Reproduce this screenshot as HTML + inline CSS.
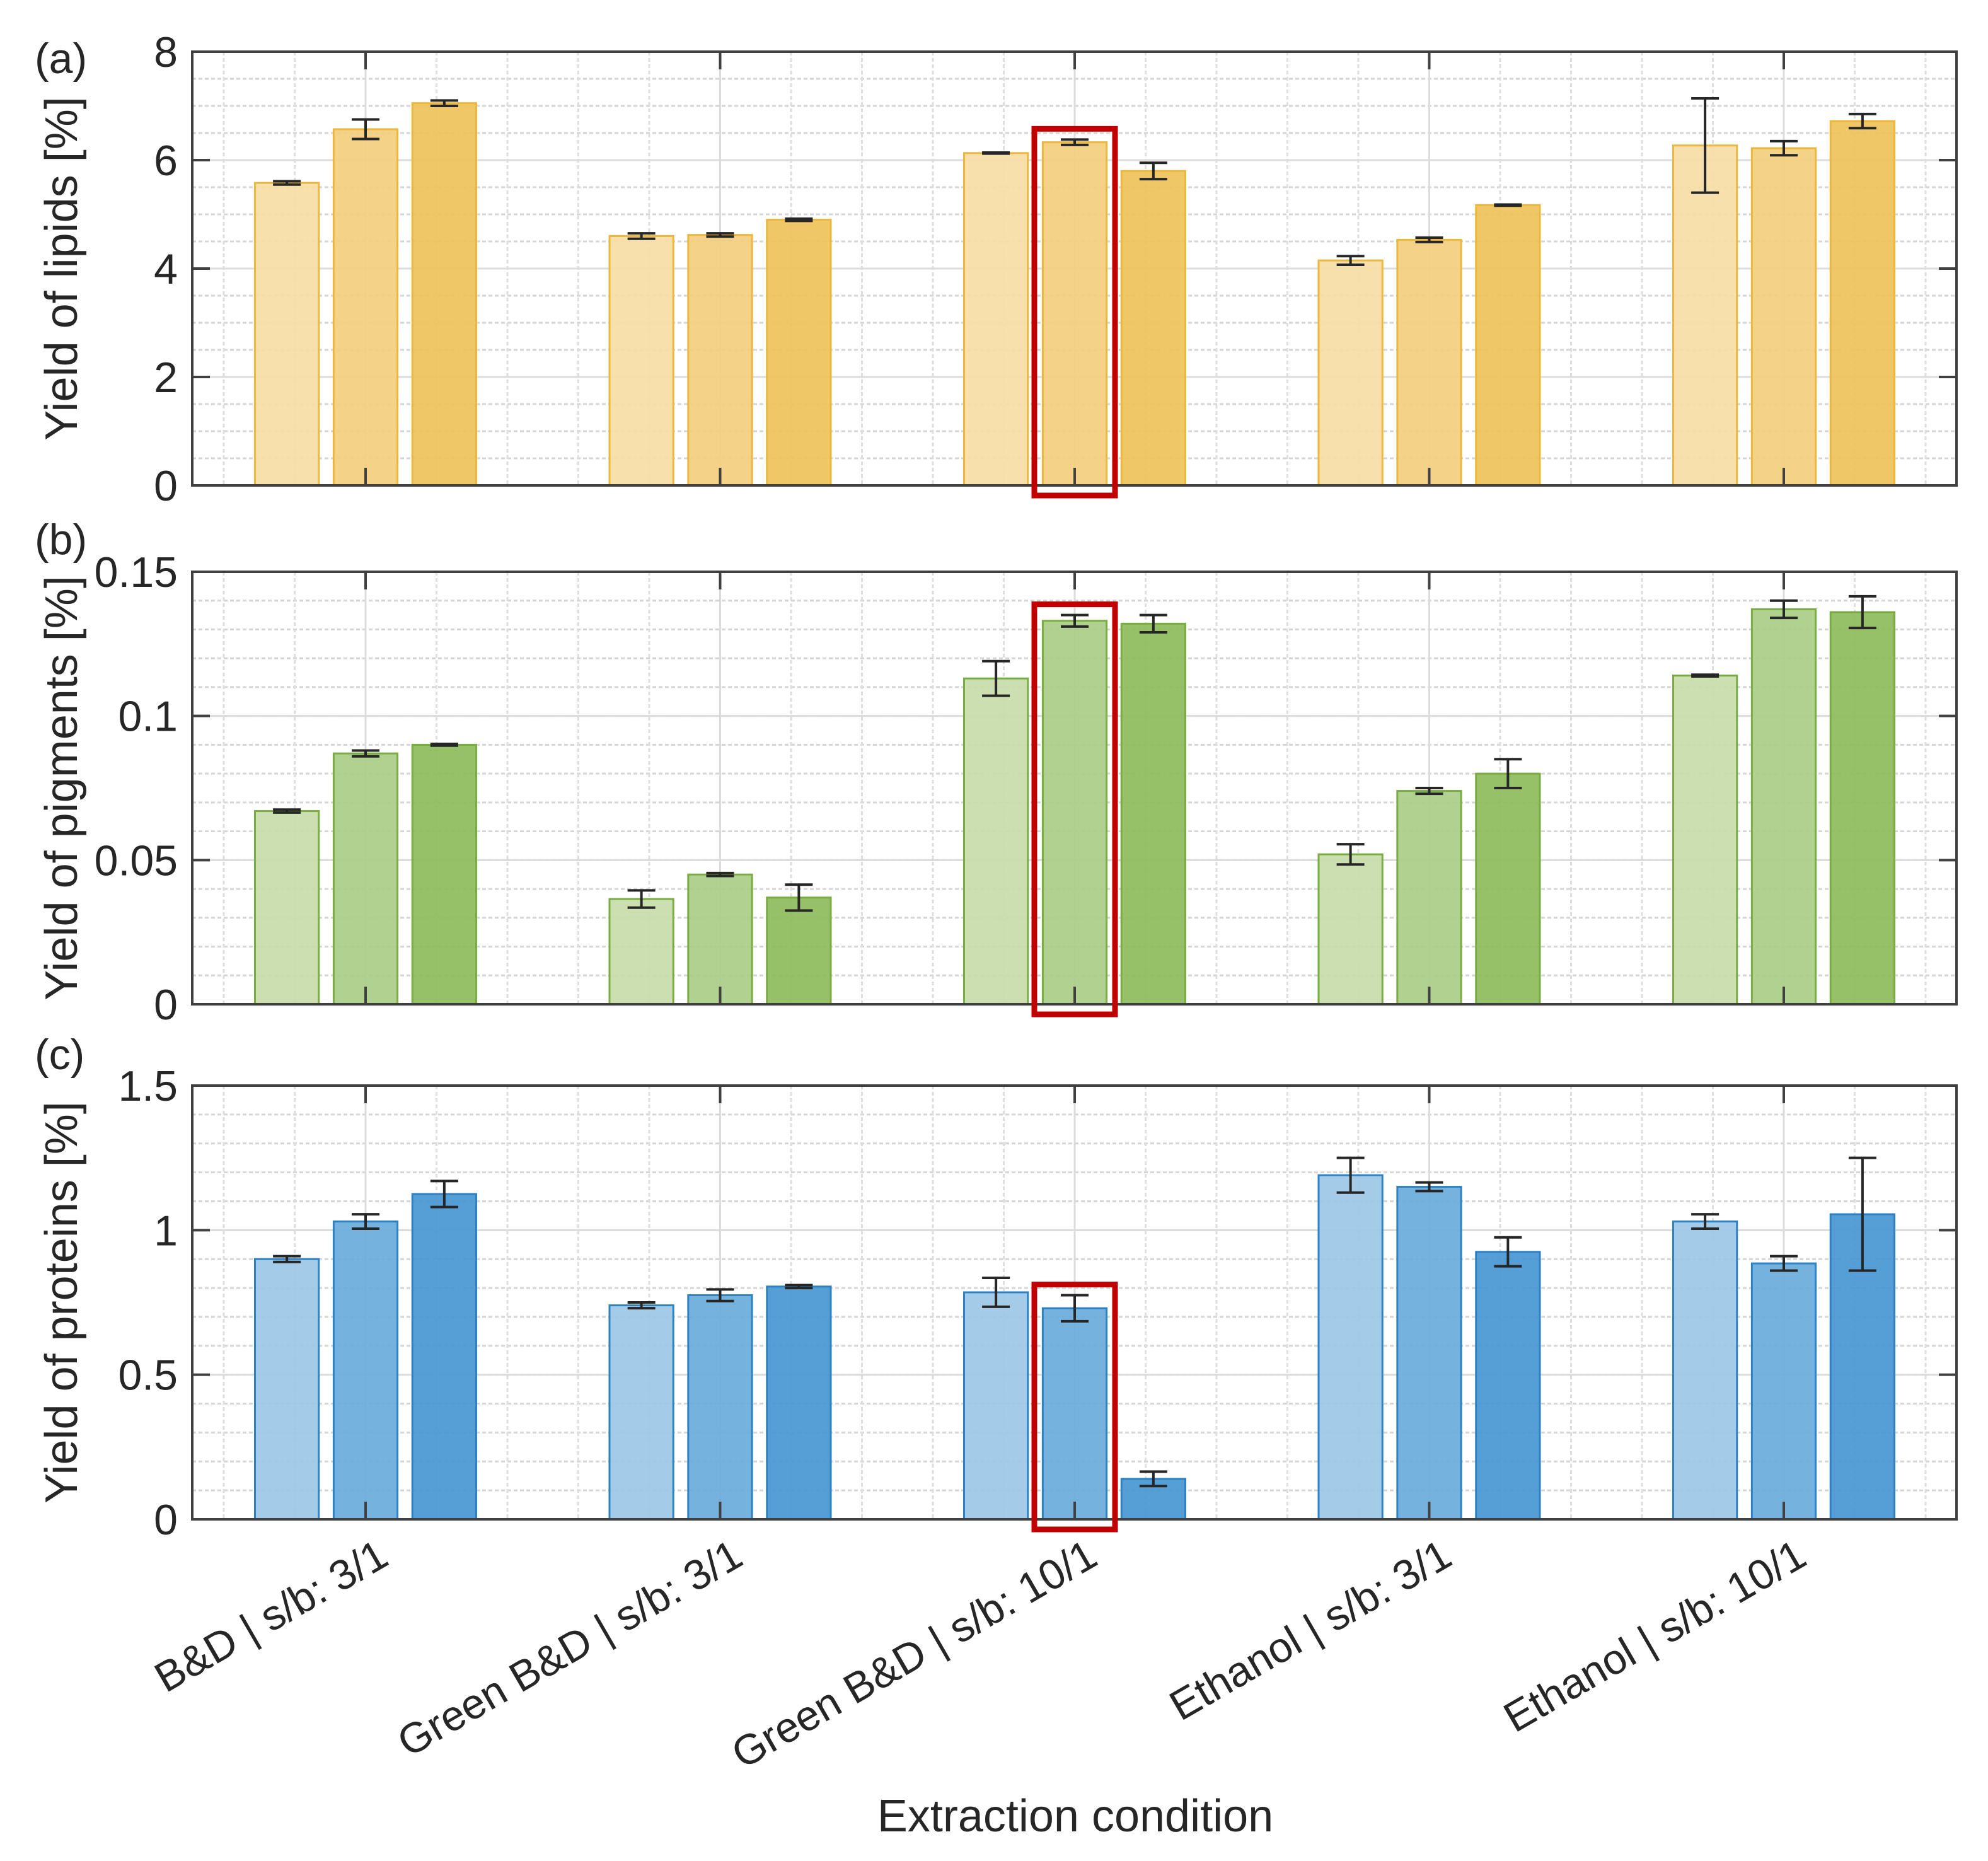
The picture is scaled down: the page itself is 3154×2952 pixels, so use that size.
<!DOCTYPE html>
<html><head><meta charset="utf-8"><style>
html,body{margin:0;padding:0;background:#fff;}
svg{display:block;font-family:"Liberation Sans",Arial,sans-serif;}
</style></head><body>
<svg id="chart" width="3154" height="2952" viewBox="0 0 3154 2952" xmlns="http://www.w3.org/2000/svg">
<rect x="0" y="0" width="3154" height="2952" fill="#fff"/>
</svg>
<script>
const categories = ["B&D | s/b: 3/1","Green B&D | s/b: 3/1","Green B&D | s/b: 10/1","Ethanol | s/b: 3/1","Ethanol | s/b: 10/1"];
const lipidVals = [[5.58,6.57,7.05],[4.60,4.62,4.90],[6.13,6.33,5.80],[4.15,4.53,5.17],[6.27,6.22,6.72]];
const lipidErr  = [[0.03,0.18,0.05],[0.05,0.03,0.02],[0.01,0.05,0.15],[0.08,0.04,0.01],[0.87,0.13,0.13]];
const pigVals = [[0.067,0.087,0.090],[0.0365,0.045,0.037],[0.113,0.133,0.132],[0.052,0.074,0.080],[0.114,0.137,0.136]];
const pigErr  = [[0.0005,0.001,0.0003],[0.003,0.0005,0.0045],[0.006,0.002,0.003],[0.0035,0.001,0.005],[0.0003,0.003,0.0055]];
const protVals = [[0.90,1.03,1.125],[0.74,0.775,0.805],[0.785,0.73,0.14],[1.19,1.15,0.925],[1.03,0.885,1.055]];
const protErr  = [[0.01,0.025,0.045],[0.01,0.02,0.005],[0.05,0.045,0.025],[0.06,0.015,0.05],[0.025,0.025,0.195]];
const lipidTicks = [0,2,4,6,8];
const pigTicks = [0,0.05,0.1,0.15];
const pigTickLabels = ["0","0.05","0.1","0.15"];
const protTicks = [0,0.5,1,1.5];
const protTickLabels = ["0","0.5","1","1.5"];
const highlightGroup = 2, highlightBar = 1;

const NS="http://www.w3.org/2000/svg";
const svg=document.getElementById('chart');
function mk(tag,attrs,parent){const e=document.createElementNS(NS,tag);for(const k in attrs)e.setAttribute(k,attrs[k]);(parent||svg).appendChild(e);return e;}

const L=305,R=3104;
const xScale=u=>580+(u-1)*562.5;

const panels=[
 {key:'lipids',letter:'(a)',letterY:116,top:82,bot:770,max:8,minorStep:0.5,ticks:lipidTicks,tlabels:lipidTicks.map(String),vals:lipidVals,err:lipidErr,ylabel:'Yield of lipids [%]',
  fills:['#f8dea6','#f3cf7f','#efc35a'],edge:'#ebb73c'},
 {key:'pigments',letter:'(b)',letterY:879,top:907,bot:1593,max:0.15,minorStep:0.01,ticks:pigTicks,tlabels:pigTickLabels,vals:pigVals,err:pigErr,ylabel:'Yield of pigments [%]',
  fills:['#c7ddab','#aacd86','#8ebc5c'],edge:'#79ac42'},
 {key:'proteins',letter:'(c)',letterY:1696,top:1722,bot:2410,max:1.5,minorStep:0.1,ticks:protTicks,tlabels:protTickLabels,vals:protVals,err:protErr,ylabel:'Yield of proteins [%]',
  fills:['#9dc8e7','#6cacdc','#4898d3'],edge:'#2e82c4'}
];

panels.forEach(p=>{
  const y=v=>p.bot-(v/p.max)*(p.bot-p.top);
  const g=mk('g',{});
  
  
  const nMinor=Math.round(p.max/p.minorStep);
  for(let i=1;i<nMinor;i++){
    const yy=y(i*p.minorStep);
    const ln=mk('line',{x1:L,x2:R,y1:yy,y2:yy,stroke:'#d6d6d6','stroke-width':3,'stroke-dasharray':'6 4'},g);
    
    
  }
  p.ticks.forEach(t=>{const yy=y(t);const ln=mk('line',{x1:L,x2:R,y1:yy,y2:yy,stroke:'#dcdcdc','stroke-width':3},g);
    });
  for(let u=0.6;u<5.45;u+=0.2){
    const uu=Math.round(u*10)/10; const xx=xScale(uu);
    const major=Math.abs(uu-Math.round(uu))<1e-6;
    const ln=mk('line',{x1:xx,x2:xx,y1:p.top,y2:p.bot,stroke:major?'#dcdcdc':'#dedede','stroke-width':3,'stroke-dasharray':major?'none':'6 4'},g);
    
    
  }
  const offs=[-0.222,0,0.222], bw=0.18;
  p.vals.forEach((grp,gi)=>{
    grp.forEach((v,bi)=>{
      const cx=xScale(gi+1+offs[bi]);
      const x0=cx-bw/2*562.5, w=bw*562.5;
      const r=mk('rect',{x:x0,y:y(v),width:w,height:p.bot-y(v),fill:p.fills[bi],'fill-opacity':0.93,stroke:p.edge,'stroke-width':3},g);
      
      
    });
  });
  p.vals.forEach((grp,gi)=>{
    grp.forEach((v,bi)=>{
      const cx=xScale(gi+1+offs[bi]);
      const e=p.err[gi][bi];
      const eg=mk('g',{stroke:'#262626','stroke-width':4},g);
      
      
      mk('line',{x1:cx,x2:cx,y1:y(v+e),y2:y(v-e)},eg);
      mk('line',{x1:cx-22,x2:cx+22,y1:y(v+e),y2:y(v+e)},eg);
      mk('line',{x1:cx-22,x2:cx+22,y1:y(v-e),y2:y(v-e)},eg);
    });
  });
  const box=mk('rect',{x:L,y:p.top,width:R-L,height:p.bot-p.top,fill:'none',stroke:'#404040','stroke-width':4},g);
  
  
  for(let k=1;k<=5;k++){const xx=xScale(k);
    mk('line',{x1:xx,x2:xx,y1:p.bot,y2:p.bot-28,stroke:'#404040','stroke-width':4},g);
    mk('line',{x1:xx,x2:xx,y1:p.top,y2:p.top+28,stroke:'#404040','stroke-width':4},g);}
  p.ticks.forEach((t,i)=>{const yy=y(t);
    mk('line',{x1:L,x2:L+28,y1:yy,y2:yy,stroke:'#404040','stroke-width':4},g);
    mk('line',{x1:R,x2:R-28,y1:yy,y2:yy,stroke:'#404040','stroke-width':4},g);
    const tx=mk('text',{x:282,y:yy+24,'text-anchor':'end','font-size':68,fill:'#262626'},g);
    tx.textContent=p.tlabels[i];
    
    
  });
  const cy=(p.top+p.bot)/2;
  const yl=mk('text',{x:0,y:0,transform:`translate(122,${cy}) rotate(-90)`,'text-anchor':'middle','font-size':72,fill:'#262626'},g);
  yl.textContent=p.ylabel;
  
  
  const lt=mk('text',{x:55,y:p.letterY,'font-size':68,fill:'#262626'},g);
  lt.textContent=p.letter;
  
  
  const hv=p.vals[highlightGroup][highlightBar]+p.err[highlightGroup][highlightBar];
  const hx=xScale(highlightGroup+1+offs[highlightBar]);
  const hb=mk('rect',{x:hx-64,y:y(hv)-17,width:128,height:p.bot+16-(y(hv)-17),fill:'none',stroke:'#c00000','stroke-width':9},g);
  
  
});

categories.forEach((c,i)=>{
  const ax=xScale(i+1)+40, ay=2480;
  const t=mk('text',{x:0,y:0,transform:`translate(${ax},${ay}) rotate(-30)`,'text-anchor':'end','font-size':67,fill:'#262626'});
  t.textContent=c;
  
  
});
const xt=mk('text',{x:1706,y:2905,'text-anchor':'middle','font-size':72,fill:'#262626'});
xt.textContent='Extraction condition';


</script>
</body></html>
